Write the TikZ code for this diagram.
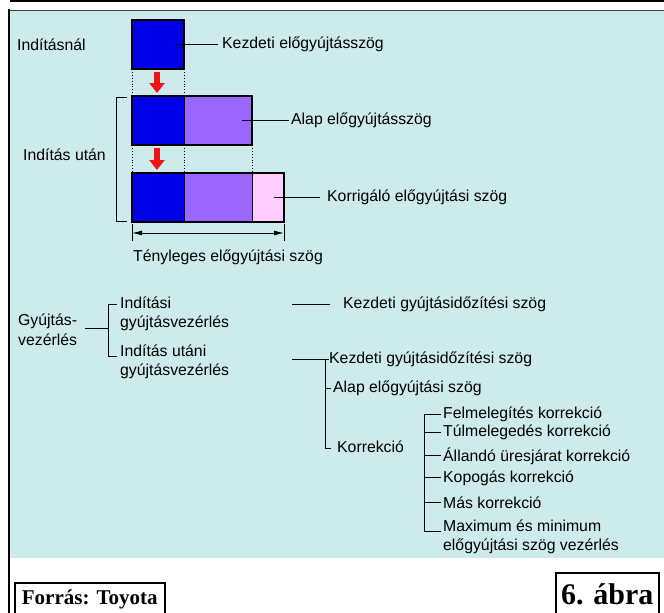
\documentclass[tikz,border=0pt]{standalone}
\usepackage{fontspec}
\setmainfont{Liberation Serif}
\setsansfont{Liberation Sans}
\usetikzlibrary{arrows.meta, positioning, calc}

\definecolor{panel}{RGB}{205,235,236}
\definecolor{ablue}{RGB}{0,0,230}
\definecolor{apurple}{RGB}{153,102,255}
\definecolor{apink}{RGB}{255,204,255}
\definecolor{ared}{RGB}{240,20,20}

\begin{document}
\begin{tikzpicture}[x=1pt, y=-1pt,
    lbl/.style={font=\sffamily\fontsize{15.8}{19.5}\selectfont, inner sep=0pt, anchor=west, align=left},
    cell/.style={draw, line width=0.6pt, minimum height=49pt, anchor=north west, inner sep=0pt, outer sep=0pt},
    frame/.style={draw, line width=2.2pt},
    lead/.style={line width=1pt},
    dots/.style={dotted, line width=0.9pt},
    down/.style={draw=ared, line width=5.5pt, -{Triangle[length=10pt, width=15pt]}},
    dim/.style={line width=1pt, {Latex[length=10pt, width=5pt]}-{Latex[length=10pt, width=5pt]}},
    srcbox/.style={draw, line width=1.5pt, anchor=north west, inner sep=0pt}
]
    \useasboundingbox (0,0) rectangle (664,613);
    \clip (0,0) rectangle (664,613);

    % page frame and panel
    \draw[line width=2pt] (10,1) -- (664,1);
    \fill[panel] (10,10) rectangle (664,558);
    \draw[line width=1.5pt, draw=black!75] (10,10.5) -- (664,10.5);
    \draw[line width=2pt] (9,9) -- (9,613);

    % bars
    \node[cell, fill=ablue, minimum width=52pt] (r1a) at (132,20) {};
    \node[cell, fill=ablue, minimum width=52pt] (r2a) at (132,96) {};
    \node[cell, fill=apurple, minimum width=68pt, right=0pt of r2a] (r2b) {};
    \node[cell, fill=ablue, minimum width=52pt] (r3a) at (132,173) {};
    \node[cell, fill=apurple, minimum width=68pt, right=0pt of r3a] (r3b) {};
    \node[cell, fill=apink, minimum width=32pt, right=0pt of r3b] (r3c) {};

    \draw[frame] (r1a.north west) rectangle (r1a.south east);
    \draw[frame] (r2a.north west) rectangle (r2b.south east);
    \draw[frame] (r3a.north west) rectangle (r3c.south east);

    \draw[dots] (r1a.south west) -- (r2a.north west);
    \draw[dots] (r1a.south east) -- (r2a.north east);
    \draw[dots] (r2a.south west) -- (r3a.north west);
    \draw[dots] (r2a.south east) -- (r3a.north east);
    \draw[dots] (r2b.south east) -- (r3b.north east);

    \coordinate (a1s) at (157,72);
    \coordinate (a1e) at (157,93);
    \coordinate (a2s) at (157,148);
    \coordinate (a2e) at (157,170);
    \draw[down] (a1s) -- (a1e);
    \draw[down] (a2s) -- (a2e);

    \node[lbl] (startlbl) at (17,45) {Indításnál};
    \node[lbl] (afterlbl) at (23,155) {Indítás után};
    \draw[lead] (127,97) -- (116,97) -- (116,221) -- (127,221);

    \node[lbl] (t1) at (222,44.5) {Kezdeti előgyújtásszög};
    \node[lbl] (t2) at (291,120.5) {Alap előgyújtásszög};
    \node[lbl] (t3) at (327,197.5) {Korrigáló előgyújtási szög};
    \draw[lead] ([xshift=-8pt]r1a.east) -- ([xshift=-4pt]t1.west);
    \draw[lead] ([xshift=-10pt]r2b.east) -- ([xshift=-2pt]t2.west);
    \draw[lead] ([xshift=-10pt]r3c.east) -- ([xshift=-7pt]t3.west);

    % actual angle
    \draw[lead] (132,224) -- (132,241);
    \draw[lead] (284,224) -- (284,241);
    \coordinate (dl) at (132,233);
    \coordinate (dr) at (284,233);
    \draw[dim] (dl) -- (dr);
    \node[lbl, anchor=center] (teny) at (228,257) {Tényleges előgyújtási szög};

    % control tree
    \node[lbl] (gy) at (18,330) {Gyújtás-\\vezérlés};
    \node[lbl] (i1) at (120,314) {Indítási\\gyújtásvezérlés};
    \node[lbl] (i2) at (120,362) {Indítás utáni\\gyújtásvezérlés};
    \draw[lead] (85,328) -- (108,328);
    \draw[lead] (117,304) -- (108,304) -- (108,356) -- (117,356);

    \node[lbl] (k1) at (343,304) {Kezdeti gyújtásidőzítési szög};
    \draw[lead] (292,304) -- ([xshift=-13pt]k1.west);

    \node[lbl] (k2) at (329,359) {Kezdeti gyújtásidőzítési szög};
    \node[lbl] (alap) at (333,388) {Alap előgyújtási szög};
    \node[lbl] (korr) at (337,447) {Korrekció};
    \draw[lead] (292,359) -- (k2.west);
    \draw[lead] (325,359) -- (325,448) -- (331,448);
    \draw[lead] (325,388) -- ([xshift=-2pt]alap.west);

    \node[lbl] (f1) at (443,414) {Felmelegítés korrekció};
    \node[lbl] (f2) at (443,432) {Túlmelegedés korrekció};
    \node[lbl] (f3) at (443,456) {Állandó üresjárat korrekció};
    \node[lbl] (f4) at (443,478) {Kopogás korrekció};
    \node[lbl] (f5) at (443,503) {Más korrekció};
    \node[lbl] (f6) at (443,537) {Maximum és minimum\\előgyújtási szög vezérlés};
    \draw[lead] ([xshift=-2pt]f1.west) -- (424,414) -- (424,531) -- (441,531);
    \draw[lead] (424,432) -- ([xshift=-2pt]f2.west);
    \draw[lead] (424,455) -- (441,455);
    \draw[lead] (424,477) -- (441,477);
    \draw[lead] (424,502) -- (441,502);

    % source and figure number
    \node[srcbox, minimum width=150pt, minimum height=34pt, font=\bfseries\fontsize{21}{24}\selectfont] (src) at (14,582) {Forrás: Toyota};
    \node[srcbox, minimum width=103pt, minimum height=44pt, font=\bfseries\fontsize{30}{34}\selectfont] (fig) at (555,572) {6. ábra};
\end{tikzpicture}
\end{document}
